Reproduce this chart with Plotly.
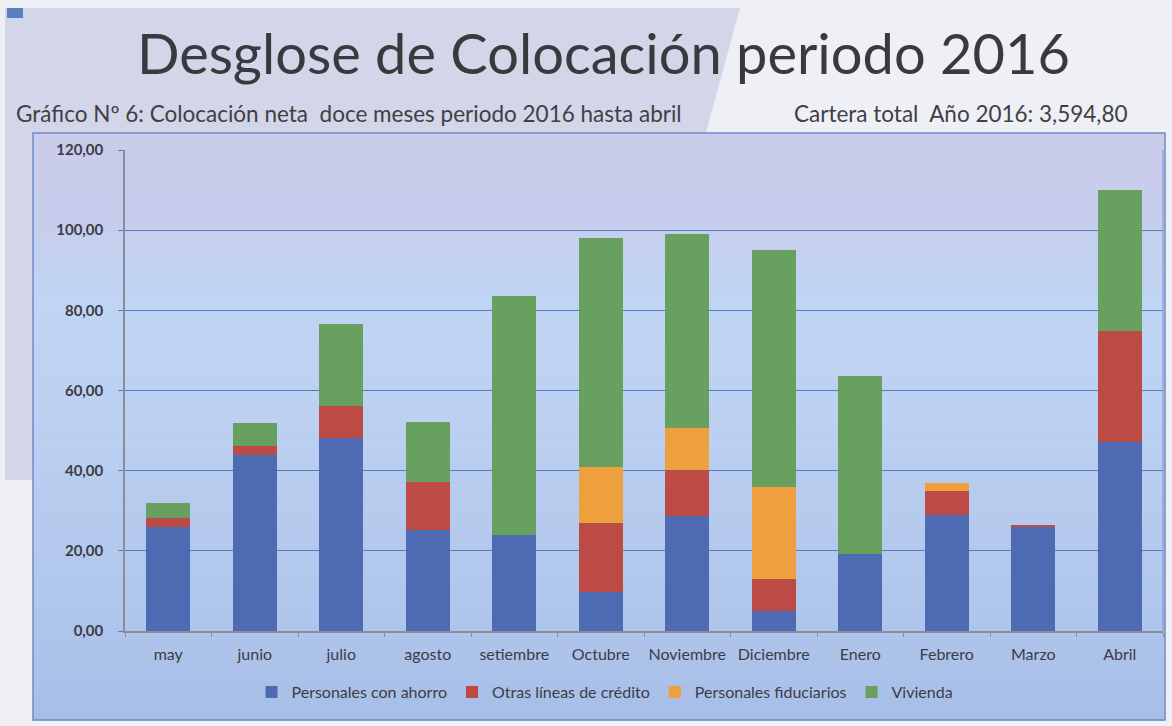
import plotly.graph_objects as go

# Monthly net placement, split by product line
meses = ["may", "junio", "julio", "agosto", "setiembre", "Octubre", "Noviembre",
         "Diciembre", "Enero", "Febrero", "Marzo", "Abril"]
personales_ahorro = [26.0, 43.9, 48.1, 25.1, 24.0, 9.8, 28.8, 5.0, 19.1, 28.9, 26.0, 47.1]
otras_lineas = [2.3, 2.3, 8.0, 12.1, 0.0, 17.1, 11.3, 8.0, 0.0, 6.0, 0.5, 27.7]
personales_fiduciarios = [0.0, 0.0, 0.0, 0.0, 0.0, 14.0, 10.6, 22.9, 0.0, 2.1, 0.0, 0.0]
vivienda = [3.7, 5.8, 20.5, 14.9, 59.7, 57.1, 48.3, 59.2, 44.6, 0.0, 0.0, 35.1]

series = [
    ("Personales con ahorro", personales_ahorro, "#4d6ab2"),
    ("Otras líneas de crédito", otras_lineas, "#bc4a45"),
    ("Personales fiduciarios", personales_fiduciarios, "#eea03e"),
    ("Vivienda", vivienda, "#68a05f"),
]

W, H = 1172, 726
L, R, T, B = 125, 1163, 150, 631          # plot area in pixels
FONT = "Lato"
TXT = "#3c3c46"


def px(x):
    return (x - L) / (R - L)


def py(y):
    return (B - y) / (B - T)


fig = go.Figure()
for name, vals, col in series:
    fig.add_trace(go.Bar(
        x=meses, y=vals, name=name,
        marker=dict(color=col, line=dict(width=0)),
    ))

shapes = []
# slide backdrop: grey-lavender panel behind the heading
shapes.append(dict(type="path", xref="paper", yref="paper", layer="below",
                   path=f"M {px(5)},{py(8)} L {px(740)},{py(8)} L {px(704)},{py(140)} "
                        f"L {px(40)},{py(140)} L {px(40)},{py(480)} L {px(5)},{py(480)} Z",
                   fillcolor="#d3d5e8", line=dict(width=0)))
shapes.append(dict(type="rect", xref="paper", yref="paper", layer="below",
                   x0=px(7), x1=px(23), y0=py(8), y1=py(18),
                   fillcolor="#5b80c2", line=dict(width=0)))

# chart box with a vertical colour gradient
stops = [(133, (203, 203, 234)), (230, (198, 206, 237)), (300, (192, 212, 243)),
         (420, (188, 208, 242)), (520, (182, 202, 238)), (620, (175, 197, 235)),
         (720, (167, 190, 231))]
top, bot = 133, 720
n = 80
for i in range(n):
    y0 = top + (bot - top) * i / n
    y1 = top + (bot - top) * (i + 1) / n
    ym = (y0 + y1) / 2
    for (a, ca), (b, cb) in zip(stops[:-1], stops[1:]):
        if a <= ym <= b:
            t = (ym - a) / (b - a)
            c = tuple(round(ca[k] + (cb[k] - ca[k]) * t) for k in range(3))
            break
    shapes.append(dict(type="rect", xref="paper", yref="paper", layer="below",
                       x0=px(33), x1=px(1165), y0=py(y0), y1=py(y1 + 0.6),
                       fillcolor=f"rgb{c}", line=dict(width=0)))
shapes.append(dict(type="rect", xref="paper", yref="paper", layer="below",
                   x0=px(33), x1=px(1165), y0=py(top), y1=py(bot),
                   fillcolor="rgba(0,0,0,0)", line=dict(color="#6f8cc6", width=1.5)))
# right edge of the plot area
shapes.append(dict(type="line", xref="paper", yref="paper", layer="above",
                   x0=1, x1=1, y0=0, y1=1, line=dict(color="#7d93c4", width=1)))

annotations = [
    dict(text="Desglose de Colocación periodo 2016", xref="paper", yref="paper",
         x=px(603), y=py(52), xanchor="center", yanchor="middle", showarrow=False,
         font=dict(family=FONT, size=56, color="#3a3a3e")),
    dict(text="Gráfico Nº 6: Colocación neta  doce meses periodo 2016 hasta abril",
         xref="paper", yref="paper", x=px(14), y=py(113), xanchor="left",
         yanchor="middle", showarrow=False,
         font=dict(family=FONT, size=22.5, color="#404044")),
    dict(text="Cartera total  Año 2016: 3,594,80", xref="paper", yref="paper",
         x=px(792), y=py(113), xanchor="left", yanchor="middle", showarrow=False,
         font=dict(family=FONT, size=22.5, color="#404044")),
]

fig.update_layout(
    width=W, height=H, autosize=False,
    margin=dict(l=L, r=W - R, t=T, b=H - B, pad=0),
    paper_bgcolor="#eff0f6", plot_bgcolor="rgba(0,0,0,0)",
    barmode="stack", bargap=0.49,
    separators=",.",
    shapes=shapes, annotations=annotations,
    font=dict(family=FONT, color=TXT),
    legend=dict(orientation="h", x=px(605), y=py(692), xanchor="center",
                yanchor="middle", bgcolor="rgba(0,0,0,0)", traceorder="normal",
                font=dict(family=FONT, size=16, color=TXT),
                itemwidth=30, tracegroupgap=0),
    xaxis=dict(showgrid=False, showline=True, linecolor="#8a8c9c", linewidth=1.5,
               ticks="outside", tickson="boundaries", ticklen=4, tickcolor="#8a8c9c",
               ticklabelstandoff=8,
               tickfont=dict(family=FONT, size=16, color=TXT)),
    yaxis=dict(range=[0, 120], dtick=20, tickformat=".2f",
               showgrid=True, gridcolor="#4f7cc2", gridwidth=1.3,
               showline=True, linecolor="#8a8c9c", linewidth=1.5, zeroline=False,
               ticks="outside", ticklen=5, tickcolor="#4f7cc2",
               ticklabelstandoff=12,
               tickfont=dict(family=FONT, size=15, color=TXT, weight="bold")),
)

fig.write_html("out.html")
